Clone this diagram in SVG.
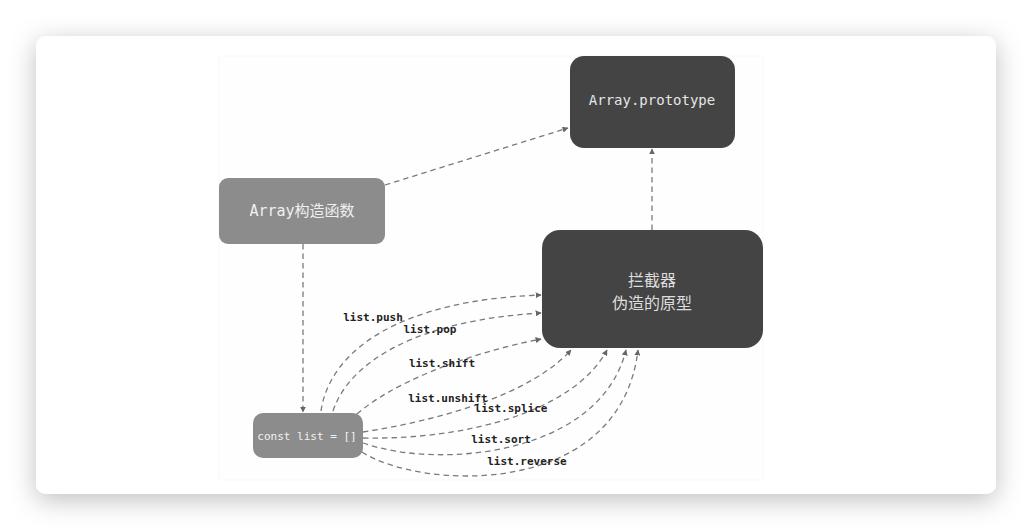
<svg xmlns="http://www.w3.org/2000/svg" width="1032" height="530" viewBox="0 0 1032 530">
  <defs>
    <filter id="shadow" x="-10%" y="-15%" width="120%" height="135%">
      <feDropShadow dx="0" dy="6" stdDeviation="13" flood-color="#000" flood-opacity="0.25"/>
    </filter>
    <marker id="arrow" viewBox="0 0 10 10" refX="9" refY="5" markerWidth="6" markerHeight="6" orient="auto" markerUnits="userSpaceOnUse">
      <path d="M0,0 L10,5 L0,10 z" fill="#666"/>
    </marker>
    <style>
      .edge { fill: none; stroke: #7a7a7a; stroke-width: 1.3; stroke-dasharray: 5.5 4; marker-end: url(#arrow); }
      .dark { fill: #444; }
      .mid { fill: #8c8c8c; }
      .mono { font-family: "DejaVu Sans Mono", "Liberation Mono", "Noto Sans CJK SC", monospace; }
      .cjk { font-family: "Noto Sans CJK SC", "DejaVu Sans", sans-serif; }
      .lbl { font-family: "DejaVu Sans Mono", "Liberation Mono", monospace; font-size: 11px; font-weight: bold; fill: #222; }
    </style>
  </defs>

  <rect x="0" y="0" width="1032" height="530" fill="#ffffff"/>
  <rect x="36" y="36" width="960" height="458" rx="10" fill="#ffffff" filter="url(#shadow)"/>
  <rect x="219" y="56" width="544" height="424" fill="#fefefe" stroke="#f4f4f4" stroke-width="0.6"/>

  <g id="connectors">
    <path class="edge" d="M385,185 L568,128"/>
    <path class="edge" d="M652,230 L652,149"/>
    <path class="edge" d="M303,244 L303,412"/>
    <path class="edge" d="M321,411 C330,350 400,300 541,295"/>
    <path class="edge" d="M333,411 C350,360 420,320 541,313"/>
    <path class="edge" d="M357,414 C390,385 460,355 541,339"/>
    <path class="edge" d="M363,432 C440,420 530,395 571,350"/>
    <path class="edge" d="M363,438 C470,440 575,410 607,350"/>
    <path class="edge" d="M363,443 C440,470 600,455 626,350"/>
    <path class="edge" d="M362,452 C420,490 620,500 638,350"/>
  </g>

  <g id="edge-labels">
    <text class="lbl" x="373" y="321" text-anchor="middle">list.push</text>
    <text class="lbl" x="430" y="333" text-anchor="middle">list.pop</text>
    <text class="lbl" x="442" y="367" text-anchor="middle">list.shift</text>
    <text class="lbl" x="448" y="402" text-anchor="middle">list.unshift</text>
    <text class="lbl" x="511" y="412" text-anchor="middle">list.splice</text>
    <text class="lbl" x="501" y="443" text-anchor="middle">list.sort</text>
    <text class="lbl" x="527" y="465" text-anchor="middle">list.reverse</text>
  </g>

  <g id="node-array-prototype">
    <rect class="dark" x="570" y="56" width="165" height="92" rx="14"/>
    <text class="mono" x="652" y="105" font-size="14" fill="#e6e6e6" text-anchor="middle">Array.prototype</text>
  </g>

  <g id="node-array-constructor">
    <rect class="mid" x="219" y="178" width="166" height="66" rx="9"/>
    <text class="mono" x="302" y="216" font-size="15" fill="#f0f0f0" text-anchor="middle">Array构造函数</text>
  </g>

  <g id="node-interceptor">
    <rect class="dark" x="542" y="230" width="221" height="118" rx="18"/>
    <text class="cjk" x="652" y="286" font-size="16" fill="#dddddd" text-anchor="middle">拦截器</text>
    <text class="cjk" x="652" y="309" font-size="16" fill="#dddddd" text-anchor="middle">伪造的原型</text>
  </g>

  <g id="node-const-list">
    <rect class="mid" x="253" y="413" width="110" height="45" rx="10" fill="#929292"/>
    <text class="mono" x="307" y="440" font-size="11" fill="#f2f2f2" text-anchor="middle">const list = []</text>
  </g>
</svg>
